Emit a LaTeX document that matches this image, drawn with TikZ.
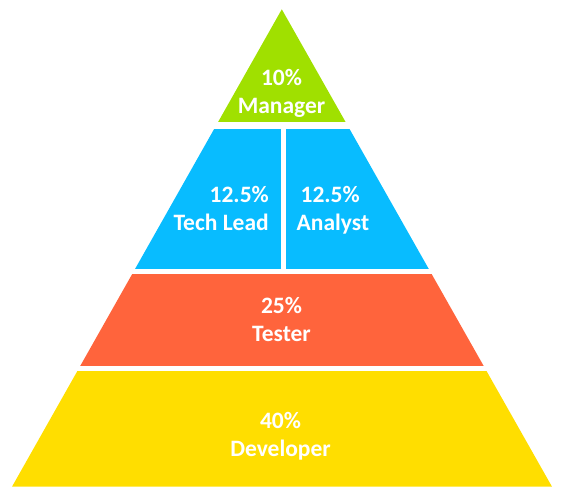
\documentclass[tikz,border=0pt]{standalone}
\usepackage{fontspec}
\setmainfont{Carlito}
\definecolor{mgrgreen}{HTML}{A0E000}
\definecolor{leadblue}{HTML}{08BCFF}
\definecolor{testred}{HTML}{FF643C}
\definecolor{devyellow}{HTML}{FFDE00}
\tikzset{
  label/.style={text=white, font=\bfseries\fontsize{23.5}{28}\selectfont, inner sep=0pt},
}
\begin{document}
\begin{tikzpicture}[x=1pt, y=-1pt]
  \useasboundingbox (0,0) rectangle (565,502);
  % outline of the pyramid
  \coordinate (apex) at (281.8,9.3);
  \coordinate (baseL) at (12,486.7);
  \coordinate (baseR) at (552,486.7);
  \begin{scope}
    \clip (apex) -- (baseL) -- (baseR) -- cycle;
    % bands, separated by white gaps
    \fill[mgrgreen]  (0,0)   rectangle (565,122.5);
    \fill[leadblue]  (0,129) rectangle (281,269);
    \fill[leadblue]  (286,129) rectangle (565,269);
    \fill[testred]   (0,274) rectangle (565,366.5);
    \fill[devyellow] (0,371.5) rectangle (565,490);
  \end{scope}
  % labels
  \node[label] (mgr) at (281.5,93.5) {\begin{tabular}{@{}c@{}}10\%\\Manager\end{tabular}};
  \node[label, anchor=east] (lead) at (269,211) {\begin{tabular}{@{}r@{}}12.5\%\\Tech Lead\end{tabular}};
  \node[label, anchor=west] (ana) at (296.5,211) {\begin{tabular}{@{}l@{}}\,12.5\%\\Analyst\end{tabular}};
  \node[label] (test) at (281.5,321.5) {\begin{tabular}{@{}c@{}}25\%\\Tester\end{tabular}};
  \node[label] (dev) at (280.5,436.5) {\begin{tabular}{@{}c@{}}40\%\\Developer\end{tabular}};
\end{tikzpicture}
\end{document}
